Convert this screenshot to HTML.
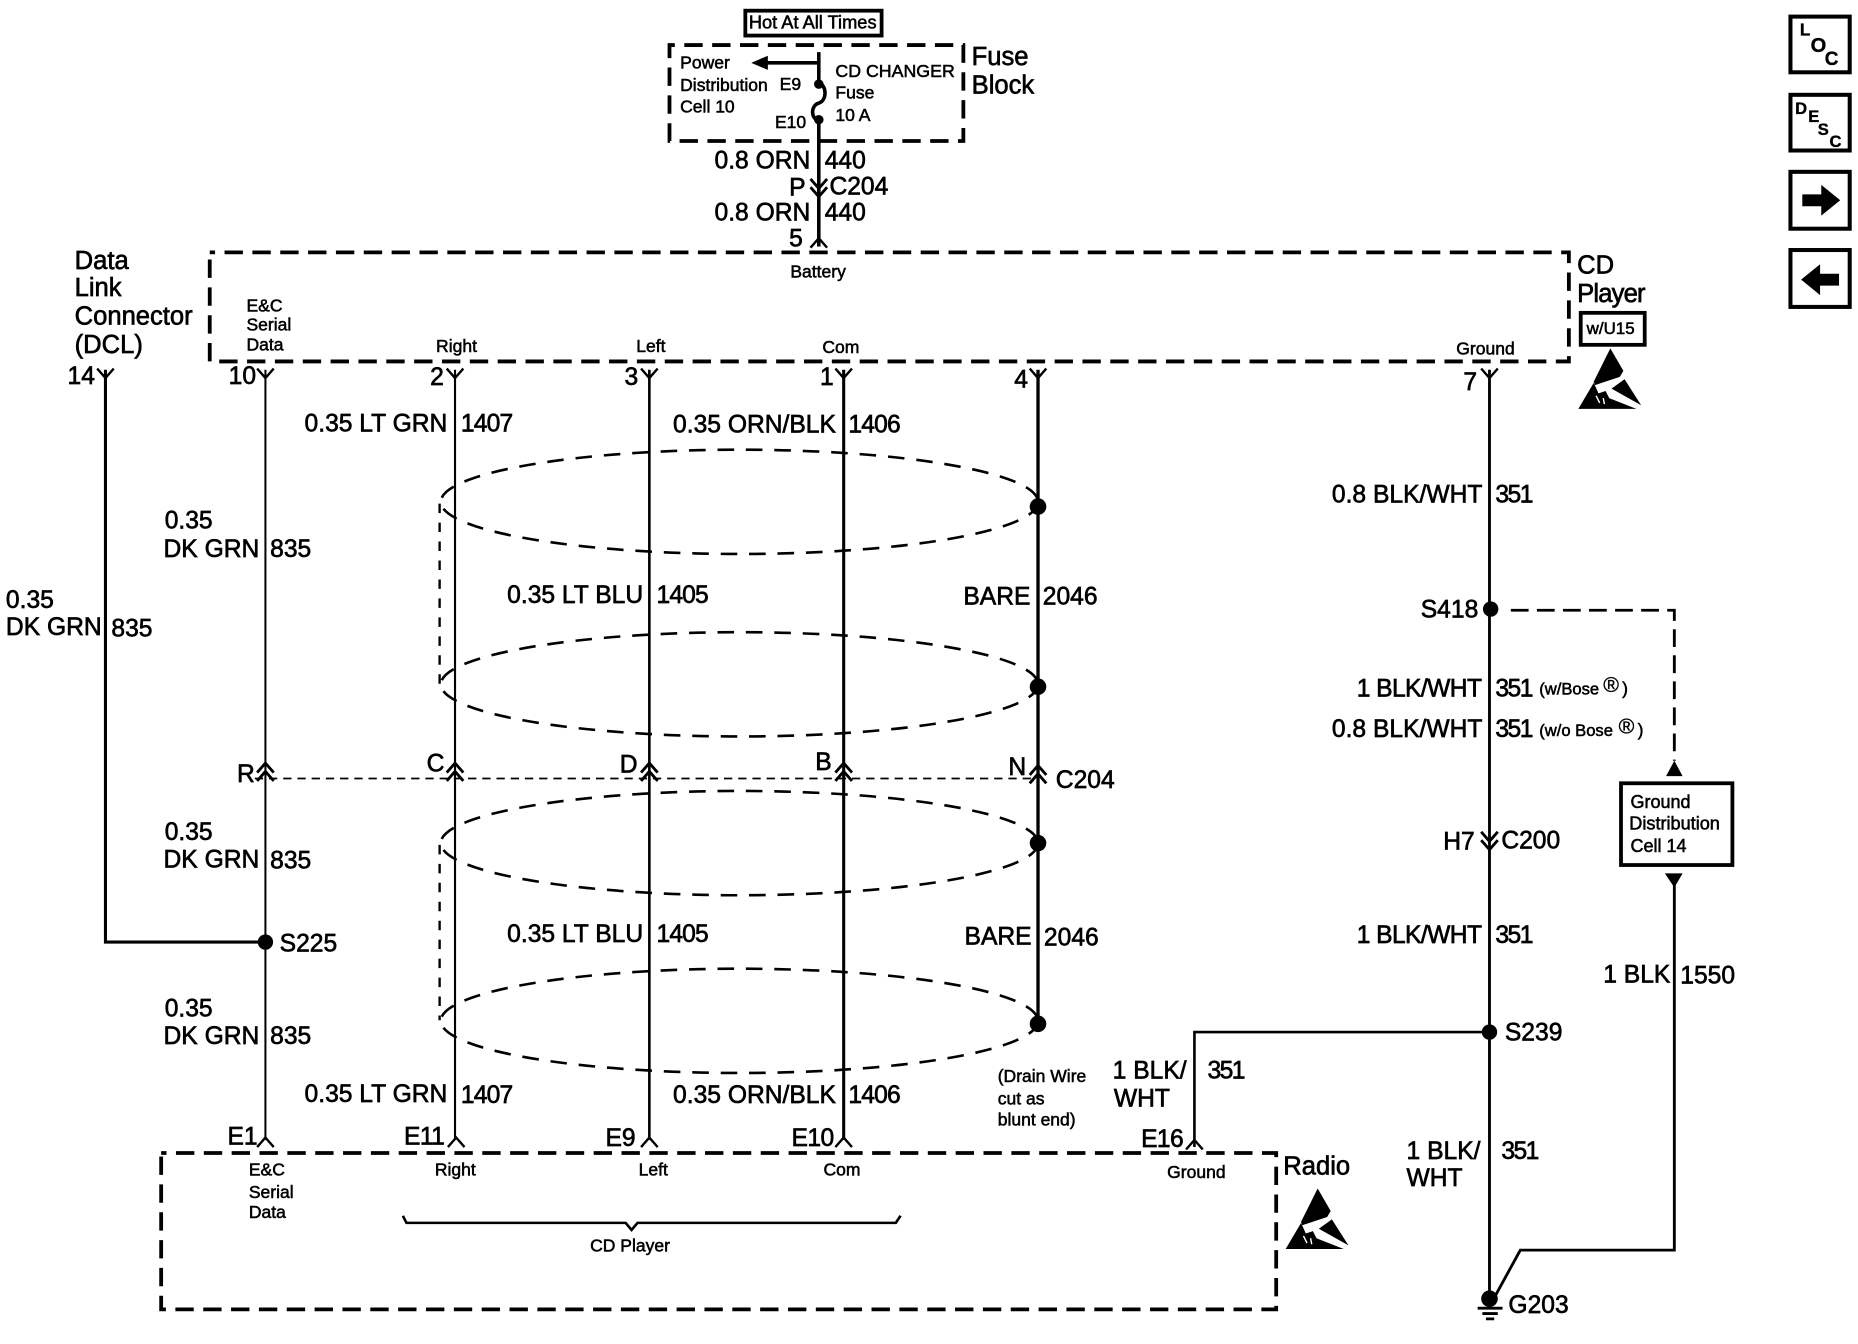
<!DOCTYPE html>
<html><head><meta charset="utf-8"><style>
html,body{margin:0;padding:0;background:#fff}
svg{display:block}
text{font-family:"Liberation Sans",sans-serif;fill:#000;stroke:#000;stroke-width:.55}
.l{font-size:20.8px}.m{font-size:18px;stroke-width:.3}.s{font-size:14.8px;stroke-width:.45}.h{font-size:21.6px}
.n{letter-spacing:-.7px}.t{letter-spacing:-1.3px}.k{letter-spacing:-.5px}
.b{font-weight:bold;stroke-width:.3}
.w{fill:none;stroke:#000}
.d{fill:none;stroke:#000;stroke-width:3.2;stroke-dasharray:15.5 8;stroke-dashoffset:11}
.e{fill:none;stroke:#000;stroke-width:2.2;stroke-dasharray:14 10}
</style></head><body>
<svg width="1858" height="1344" viewBox="0 0 1568 1134.2" xmlns="http://www.w3.org/2000/svg">
<defs>
<path id="yt" d="M-7-8L0 0L7-8" fill="none" stroke="#000" stroke-width="2"/>
<path id="yb" d="M-7 8L0 0L7 8" fill="none" stroke="#000" stroke-width="2"/>
<g id="dbl"><path d="M-7 8L0 0L7 8M-7 15L0 7L7 15" fill="none" stroke="#000" stroke-width="2.4"/></g>
<g id="esd"><path d="M1359 294L1370 313L1367 318L1346 325L1345 322Z"/><path d="M1332 345L1345 323L1349 332L1355 330L1358 336L1381 345Z"/><path d="M1360 328L1371 320L1385 342Z"/><path d="M1347 334l3 6M1353 336l1 5" stroke="#fff" stroke-width="1.2"/></g>
</defs>

<!-- Dashed boxes -->
<rect x="565" y="38" width="248" height="81" class="d"/>
<rect x="177" y="213" width="1147" height="92" class="d"/>
<rect x="136" y="973" width="941" height="132" class="d"/>
<rect x="629" y="9" width="115" height="21" fill="none" stroke="#000" stroke-width="3.2"/>
<rect x="1334" y="264" width="54" height="27" fill="none" stroke="#000" stroke-width="3.2"/>
<rect x="1368" y="661" width="94" height="69" fill="none" stroke="#000" stroke-width="3.2"/>

<!-- Fuse block wiring -->
<path class="w" stroke-width="3" d="M691 44V70M691 70c7 2 7 15 0 17c-7 2-7 13 0 15V208"/>
<path class="w" stroke-width="3" d="M691 53H645"/>
<path d="M634 53L648 47V59Z"/>
<circle cx="691" cy="71" r="4"/><circle cx="691" cy="101" r="4"/>
<use href="#dbl" x="691" y="150" transform="rotate(180 691 158)"/>
<use href="#yb" x="691" y="201"/>

<!-- Main wires -->
<path class="w" stroke-width="2.6" d="M89 312V795H224"/>
<path class="w" stroke-width="1.7" d="M224 312V962"/>
<path class="w" stroke-width="1.8" d="M384 312V962"/>
<path class="w" stroke-width="2.2" d="M548 312V962"/>
<path class="w" stroke-width="2.6" d="M712 312V962"/>
<path class="w" stroke-width="2.8" d="M876 312V864"/>
<path class="w" stroke-width="2.4" d="M1257 312V1097"/>
<path class="w" stroke-width="2.2" d="M1257 871H1008V968"/>
<path class="w" stroke-width="2.4" d="M1413 740V1055H1283L1260 1097"/>
<path d="M1413 642L1420 655H1406Z"/>
<path d="M1405 737H1420L1413 749Z"/>
<path d="M1275 515H1413V642" fill="none" stroke="#000" stroke-width="2.4" stroke-dasharray="15 7"/>

<!-- top connectors -->
<use href="#yt" x="89" y="319"/><use href="#yt" x="224" y="319"/><use href="#yt" x="384" y="319"/>
<use href="#yt" x="548" y="319"/><use href="#yt" x="712" y="319"/><use href="#yt" x="876" y="319"/><use href="#yt" x="1257" y="319"/>

<!-- shield ellipses -->
<ellipse cx="624" cy="423.500" rx="252" ry="44" class="e"/>
<ellipse cx="624" cy="577.500" rx="252" ry="44" class="e"/>
<ellipse cx="624" cy="711.500" rx="252" ry="44" class="e"/>
<ellipse cx="624" cy="861.500" rx="252" ry="44" class="e"/>
<path d="M371 425V577M371 713V861" fill="none" stroke="#000" stroke-width="2" stroke-dasharray="8 8"/>

<!-- C204 line -->
<path d="M215 657H870" fill="none" stroke="#000" stroke-width="1.5" stroke-dasharray="7 5"/>
<use href="#dbl" x="224" y="644"/><use href="#dbl" x="384" y="644"/><use href="#dbl" x="548" y="644"/>
<use href="#dbl" x="712" y="644"/><use href="#dbl" x="876" y="646"/>

<!-- C200 -->
<use href="#dbl" x="1257" y="701" transform="rotate(180 1257 709)"/>

<!-- dots -->
<circle cx="876" cy="427.500" r="7"/><circle cx="876" cy="579.500" r="7"/><circle cx="876" cy="711.500" r="7"/><circle cx="876" cy="864" r="7"/>
<circle cx="224" cy="795" r="6.5"/><circle cx="1258" cy="514" r="6.5"/><circle cx="1257" cy="871" r="6.5"/><circle cx="1257" cy="1096" r="7"/>
<path class="w" stroke-width="2.4" d="M1247 1104H1268M1251 1108.500H1264M1254 1113H1261"/>

<!-- bottom connectors -->
<use href="#yb" x="224" y="960"/><use href="#yb" x="385" y="960"/><use href="#yb" x="548" y="960"/><use href="#yb" x="712" y="960"/><use href="#yb" x="1008" y="962"/>

<!-- brace -->
<path class="w" stroke-width="2.2" d="M340 1026l3 6H528l5 6l5-6H756l4-6"/>

<!-- ESD -->
<use href="#esd"/>
<use href="#esd" x="-247" y="709"/>

<!-- Right icons -->
<g fill="none" stroke="#000" stroke-width="3.4">
<rect x="1511" y="14" width="50" height="47"/><rect x="1511" y="80" width="50" height="47"/>
<rect x="1511" y="145" width="50" height="48"/><rect x="1511" y="211" width="50" height="48"/>
</g>
<text x="1519" y="30" class="b" font-size="14.5">L</text><text x="1528" y="44" class="b" font-size="17">O</text><text x="1540" y="55" class="b" font-size="16">C</text>
<text x="1515" y="96" class="b" font-size="14">D</text><text x="1526" y="103" class="b" font-size="14">E</text><text x="1534" y="114" class="b" font-size="14">S</text><text x="1544" y="124" class="b" font-size="14">C</text>
<path d="M1521 164H1537V156L1553 169L1537 182V174H1521Z"/>
<path d="M1552 231H1536V223L1520 236L1536 249V241H1552Z"/>

<!-- Header text -->
<text x="632" y="24" class="s" style="font-size:15.4px">Hot At All Times</text>
<text x="574" y="58" class="s">Power</text><text x="574" y="77" class="s">Distribution</text><text x="574" y="95" class="s">Cell 10</text>
<text x="658" y="76" class="s">E9</text><text x="654" y="108" class="s">E10</text>
<text x="705" y="65" class="s" style="font-size:15px">CD CHANGER</text><text x="705" y="83" class="s">Fuse</text><text x="705" y="102" class="s">10 A</text>
<text x="820" y="55" class="h">Fuse</text><text x="820" y="79" class="h">Block</text>
<text x="603" y="142" class="l">0.8 ORN</text><text x="696" y="142" class="l">440</text>
<text x="666" y="165" class="l">P</text><text x="700" y="164" class="l">C204</text>
<text x="603" y="186" class="l">0.8 ORN</text><text x="696" y="186" class="l">440</text>
<text x="666" y="208" class="l">5</text>
<text x="667" y="234" class="s">Battery</text>

<!-- DCL -->
<text x="63" y="227" class="h">Data</text><text x="63" y="250" class="h">Link</text><text x="63" y="274" class="h">Connector</text><text x="63" y="298" class="h">(DCL)</text>

<!-- CD player labels -->
<text x="208" y="263" class="s">E&amp;C</text><text x="208" y="279" class="s">Serial</text><text x="208" y="296" class="s">Data</text>
<text x="368" y="297" class="s">Right</text><text x="537" y="297" class="s">Left</text><text x="694" y="298" class="s">Com</text><text x="1229" y="299" class="s">Ground</text>
<text x="1331" y="231" class="h">CD</text><text x="1331" y="255" class="h" style="letter-spacing:-.7px">Player</text><text x="1339" y="282" class="s" style="font-size:14.3px">w/U15</text>

<text x="57" y="324" class="l">14</text><text x="193" y="324" class="l">10</text><text x="363" y="325" class="l">2</text><text x="527" y="325" class="l">3</text><text x="692" y="325" class="l">1</text><text x="856" y="327" class="l">4</text><text x="1235" y="329" class="l">7</text>

<text x="257" y="364" class="l">0.35 LT GRN</text><text x="389" y="364" class="l n">1407</text>
<text x="568" y="365" class="l">0.35 ORN/BLK</text><text x="716" y="365" class="l n">1406</text>
<text x="139" y="446" class="l">0.35</text><text x="138" y="470" class="l">DK GRN</text><text x="228" y="470" class="l">835</text>
<text x="5" y="513" class="l">0.35</text><text x="5" y="536" class="l">DK GRN</text><text x="94" y="537" class="l">835</text>
<text x="428" y="509" class="l">0.35 LT BLU</text><text x="554" y="509" class="l n">1405</text>
<text x="813" y="510" class="l">BARE</text><text x="880" y="510" class="l">2046</text>

<text x="1124" y="424" class="l">0.8 BLK/WHT</text><text x="1262" y="424" class="l t">351</text>
<text x="1199" y="521" class="l">S418</text>
<text x="1145" y="588" class="l k">1 BLK/WHT</text><text x="1262" y="588" class="l t">351</text><text x="1299" y="586" class="s" style="font-size:14px">(w/Bose</text><text x="1353" y="584" class="m">®</text><text x="1369" y="586" class="s">)</text>
<text x="1124" y="622" class="l">0.8 BLK/WHT</text><text x="1262" y="622" class="l t">351</text><text x="1299" y="621" class="s" style="font-size:14px">(w/o Bose</text><text x="1366" y="619" class="m">®</text><text x="1382" y="621" class="s">)</text>

<text x="200" y="660" class="l">R</text><text x="360" y="651" class="l">C</text><text x="523" y="652" class="l">D</text><text x="688" y="650" class="l">B</text><text x="851" y="654" class="l">N</text><text x="891" y="665" class="l">C204</text>

<text x="1376" y="682" class="s" style="font-size:15.2px">Ground</text><text x="1375" y="700" class="s" style="font-size:15.3px">Distribution</text><text x="1376" y="719" class="s" style="font-size:15.2px">Cell 14</text>
<text x="1218" y="717" class="l">H7</text><text x="1267" y="716" class="l">C200</text>

<text x="139" y="709" class="l">0.35</text><text x="138" y="732" class="l">DK GRN</text><text x="228" y="733" class="l">835</text>
<text x="236" y="803" class="l">S225</text>
<text x="428" y="795" class="l">0.35 LT BLU</text><text x="554" y="795" class="l n">1405</text>
<text x="814" y="797" class="l">BARE</text><text x="881" y="798" class="l">2046</text>
<text x="1145" y="796" class="l k">1 BLK/WHT</text><text x="1262" y="796" class="l t">351</text>
<text x="1353" y="829" class="l">1 BLK</text><text x="1418" y="830" class="l">1550</text>
<text x="139" y="858" class="l">0.35</text><text x="138" y="881" class="l">DK GRN</text><text x="228" y="881" class="l">835</text>
<text x="1270" y="878" class="l">S239</text>

<text x="842" y="913" class="s">(Drain Wire</text><text x="842" y="932" class="s">cut as</text><text x="842" y="950" class="s">blunt end)</text>
<text x="939" y="910" class="l">1 BLK/</text><text x="940" y="934" class="l">WHT</text><text x="1019" y="910" class="l t">351</text>
<text x="257" y="930" class="l">0.35 LT GRN</text><text x="389" y="931" class="l n">1407</text>
<text x="568" y="931" class="l">0.35 ORN/BLK</text><text x="716" y="931" class="l n">1406</text>

<text x="192" y="966" class="l">E1</text><text x="341" y="966" class="l k">E11</text><text x="511" y="967" class="l">E9</text><text x="668" y="967" class="l k">E10</text><text x="963" y="968" class="l k">E16</text>
<text x="1187" y="978" class="l">1 BLK/</text><text x="1187" y="1001" class="l">WHT</text><text x="1267" y="978" class="l t">351</text>
<text x="1083" y="991" class="h">Radio</text>

<text x="210" y="992" class="s">E&amp;C</text><text x="210" y="1011" class="s">Serial</text><text x="210" y="1028" class="s">Data</text>
<text x="367" y="992" class="s">Right</text><text x="539" y="992" class="s">Left</text><text x="695" y="992" class="s">Com</text><text x="985" y="994" class="s">Ground</text>
<text x="498" y="1056" class="s">CD Player</text>
<text x="1273" y="1108" class="l">G203</text>
</svg>
</body></html>
